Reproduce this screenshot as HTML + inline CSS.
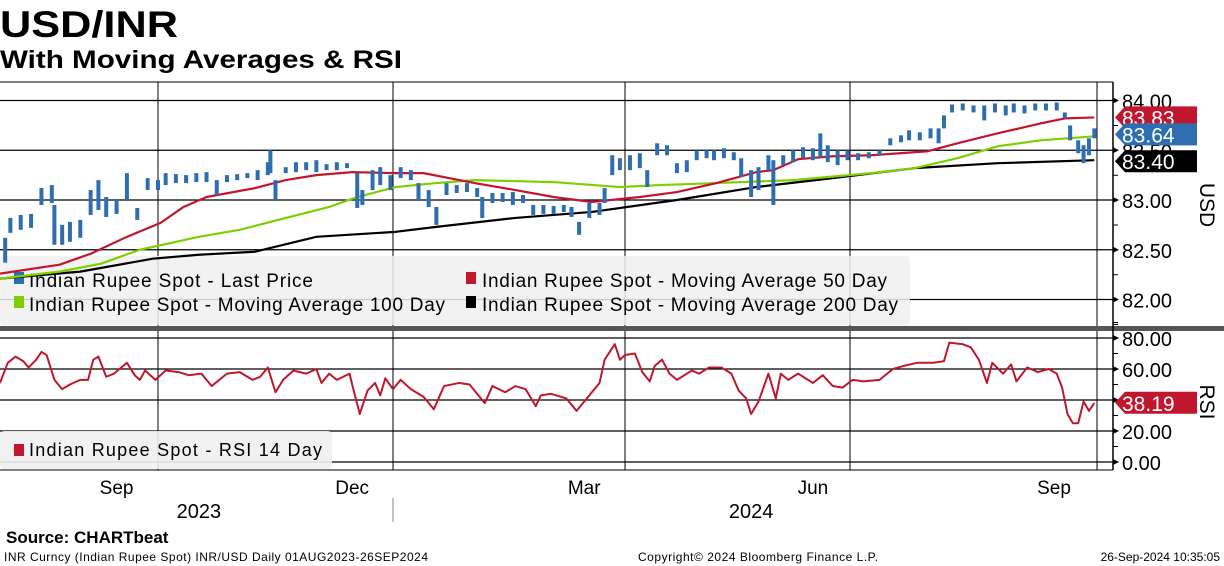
<!DOCTYPE html>
<html><head><meta charset="utf-8"><style>
html,body{margin:0;padding:0;background:#fff;}
svg{display:block;font-family:"Liberation Sans",sans-serif;}
</style></head><body>
<svg id="chart" width="1224" height="566" viewBox="0 0 1224 566" xmlns="http://www.w3.org/2000/svg">
<text x="0" y="37" font-size="37" font-weight="bold" textLength="178" lengthAdjust="spacingAndGlyphs">USD/INR</text>
<text x="0" y="68" font-size="25" font-weight="bold" textLength="402" lengthAdjust="spacingAndGlyphs">With Moving Averages &amp; RSI</text>
<g id="grid"></g>
<g id="legend-price">
<rect x="0" y="256" width="910" height="69" rx="4" fill="#f0f0f0" fill-opacity="0.85"/>
</g>
<g id="series"></g>
<rect x="0" y="326" width="1224" height="5" fill="#555"/>
<g id="rsi-grid"></g>
<g id="rsi-series"></g>
<g id="legend-rsi">
<rect x="0" y="431" width="332" height="38" rx="4" fill="#f0f0f0" fill-opacity="0.9"/>
<rect x="14" y="444" width="10" height="12" fill="#c0172e"/>
<text x="29" y="456" font-size="18" textLength="293">Indian Rupee Spot - RSI 14 Day</text>
</g>
<g id="axes"></g>
<text x="6" y="543" font-size="17" font-weight="bold">Source: CHARTbeat</text>
<text x="4" y="561" font-size="12" textLength="424">INR Curncy (Indian Rupee Spot) INR/USD  Daily 01AUG2023-26SEP2024</text>
<text x="638" y="561" font-size="12" textLength="240">Copyright© 2024 Bloomberg Finance L.P.</text>
<text x="1220" y="561" font-size="12" text-anchor="end">26-Sep-2024 10:35:05</text>
</svg>
<script>
const NS="http://www.w3.org/2000/svg";
// ---- data ----
const barDays=[2,4,8,12,16,20,21,24,27,31,35,38,41,45,49,53,57,61,64,68,72,76,80,84,88,92,96,100,104,105,107,111,115,119,123,127,131,135,139,141,145,148,152,156,160,163,167,170,174,178,182,186,188,192,196,200,204,208,212,216,220,223,226,230,234,236,239,242,246,250,253,257,261,265,269,273,277,280,284,288,291,295,298,302,304,308,312,316,320,323,326,330,334,338,342,346,350,354,357,361,365,368,370,373,377,381,385,389,393,396,400,404,408,412,415,417,420,422,424,426];
const barLow=[82.37,82.67,82.70,82.72,82.95,82.97,82.55,82.55,82.58,82.62,82.85,82.90,82.83,82.86,83.0,82.80,83.1,83.1,83.15,83.17,83.17,83.18,83.18,83.05,83.18,83.2,83.22,83.2,83.25,83.27,83.0,83.27,83.28,83.3,83.28,83.3,83.3,83.32,82.92,82.95,83.1,83.15,83.1,83.22,83.2,83.0,82.93,82.75,83.05,83.07,83.08,83.03,82.82,82.97,82.98,82.95,82.97,82.85,82.86,82.86,82.88,82.83,82.65,82.82,82.85,82.97,83.25,83.3,83.3,83.32,83.13,83.45,83.45,83.27,83.28,83.4,83.42,83.4,83.42,83.4,83.23,83.03,83.1,83.3,82.95,83.35,83.38,83.42,83.4,83.43,83.38,83.35,83.4,83.4,83.42,83.45,83.55,83.58,83.6,83.6,83.62,83.57,83.72,83.88,83.9,83.88,83.8,83.88,83.85,83.88,83.87,83.9,83.9,83.9,83.82,83.6,83.47,83.37,83.45,83.62];
const barHigh=[82.62,82.82,82.85,82.86,83.12,83.15,82.95,82.75,82.78,82.80,83.10,83.20,83.03,83.0,83.27,82.92,83.22,83.2,83.27,83.26,83.25,83.27,83.28,83.2,83.25,83.26,83.27,83.3,83.38,83.50,83.2,83.33,83.38,83.38,83.4,83.36,83.38,83.37,83.27,83.1,83.3,83.33,83.25,83.33,83.3,83.17,83.1,82.93,83.17,83.15,83.17,83.12,83.03,83.07,83.07,83.08,83.05,82.95,82.95,82.94,82.95,82.93,82.78,82.97,82.97,83.12,83.45,83.42,83.45,83.47,83.3,83.57,83.55,83.37,83.4,83.5,83.5,83.5,83.52,83.48,83.42,83.3,83.33,83.45,83.4,83.45,83.5,83.53,83.52,83.67,83.55,83.5,83.5,83.47,83.48,83.5,83.62,83.65,83.7,83.68,83.72,83.72,83.85,83.96,83.97,83.95,83.95,83.97,83.95,83.97,83.95,83.97,83.97,83.98,83.88,83.75,83.6,83.55,83.62,83.72];
const ma50Days=[0,23,35,49,62,71,80,99,111,123,137,154,165,185,201,216,231,250,265,281,297,304,314,328,343,364,375,390,406,415,426];
const ma50Vals=[82.26,82.35,82.46,82.63,82.77,82.93,83.03,83.12,83.2,83.25,83.28,83.27,83.27,83.17,83.10,83.03,82.98,83.03,83.08,83.17,83.28,83.30,83.41,83.44,83.45,83.49,83.57,83.67,83.77,83.82,83.83];
const ma100Days=[0,23,39,54,77,93,108,128,139,154,170,185,216,242,258,281,312,343,359,375,390,406,426];
const ma100Vals=[82.21,82.28,82.36,82.50,82.63,82.70,82.80,82.93,83.03,83.13,83.17,83.20,83.18,83.13,83.15,83.17,83.20,83.27,83.32,83.42,83.54,83.60,83.64];
const ma200Days=[0,31,59,77,99,123,154,170,201,231,265,297,328,359,390,426];
const ma200Vals=[82.21,82.28,82.41,82.45,82.48,82.63,82.68,82.73,82.82,82.88,83.0,83.13,83.22,83.32,83.37,83.40];
const rsiDays=[0,3,6,9,11,14,16,18,21,24,27,31,34,36,38,41,44,49,52,54,56,60,64,69,73,78,82,88,93,98,101,104,107,110,114,119,123,125,128,131,136,137,140,143,146,148,150,153,156,160,165,169,173,179,183,189,192,197,201,205,209,211,215,221,225,229,234,236,240,242,244,248,251,254,256,259,262,265,271,274,278,283,287,290,293,295,298,302,305,307,310,314,320,324,328,332,336,340,346,351,355,360,364,366,370,372,377,380,383,386,388,392,395,397,401,405,409,412,414,416,418,420,422,424,426];
const rsiVals=[51,64,68,65,61,66,71,69,53,47,50,53,53,66,68,55,57,64,56,53,59,53,59,58,56,57,49,57,58,53,55,61,45,53,59,57,60,51,57,53,57,50,31,46,51,43,54,47,53,47,42,34,49,51,50,38,49,45,49,47,36,43,44,41,33,41,51,66,76,66,69,70,58,52,62,66,57,53,59,57,61,61,57,46,41,31,39,57,41,57,53,57,51,56,49,48,53,52,53,60,62,64,64,64,65,77,76,74,66,51,64,57,63,52,61,58,60,57,48,31,25,25,39,33,38];
const priceTicks=["84.00","83.50","83.00","82.50","82.00"];
const rsiTicks=["80.00","60.00","40.00","20.00","0.00"];
const monthLabels=["Sep","Dec","Mar","Jun","Sep"];
const monthDays=[45,137,228,320,411];
const gridDays=[61,153,244,335,427];
const yearLabels=["2023","2024"];
const yearDays=[77,295];
const lastPrice=83.64, lastMA50=83.83, lastMA200=83.40, lastRSI=38.19;
// ---- scales ----
const kD=[0,61,153,244,335,427], kX=[0,158,393,625,850,1097];
function xS(d){for(let i=1;i<kD.length;i++){if(d<=kD[i]||i==kD.length-1){return kX[i-1]+(d-kD[i-1])*(kX[i]-kX[i-1])/(kD[i]-kD[i-1]);}}}
const yP=v=>200-(v-83)*99.5;
const yR=v=>462-v*1.55;
const AX=1113;
function mk(tag,attrs,parent){const e=document.createElementNS(NS,tag);for(const k in attrs)e.setAttribute(k,attrs[k]);parent.appendChild(e);return e;}
const grid=document.getElementById('grid'),series=document.getElementById('series'),rg=document.getElementById('rsi-grid'),rs=document.getElementById('rsi-series'),axes=document.getElementById('axes'),lp=document.getElementById('legend-price');
priceTicks.forEach(t=>{const y=yP(parseFloat(t));
const l=mk('line',{x1:0,x2:AX,y1:y,y2:y,stroke:'#000','stroke-width':1.2},grid);


const tx=mk('text',{x:1122,y:y+8,'font-size':20},axes);tx.textContent=t;


mk('path',{d:`M${AX} ${y-3}L${AX+6} ${y}L${AX} ${y+3}Z`,fill:'#000'},axes);
mk('line',{x1:AX,x2:AX+5,y1:y+25,y2:y+25,stroke:'#000'},axes);});
gridDays.forEach(d=>{
const l=mk('line',{x1:xS(d),x2:xS(d),y1:82,y2:470,stroke:'#000','stroke-width':1},grid);

});
mk('line',{x1:0,x2:AX,y1:82,y2:82,stroke:'#000','stroke-width':1},grid);
function poly(days,vals,ys,color,name,parent,w){
const p=mk('polyline',{points:days.map((d,i)=>xS(d)+','+ys(vals[i])).join(' '),fill:'none',stroke:color,'stroke-width':w||2.2,'stroke-linejoin':'round'},parent);

}
poly(ma200Days,ma200Vals,yP,'#000','ma200-line',series);
poly(ma100Days,ma100Vals,yP,'#7fcf00','ma100-line',series);
poly(ma50Days,ma50Vals,yP,'#c0172e','ma50-line',series);
barDays.forEach((d,i)=>{
const r=mk('rect',{x:xS(d)-2,y:yP(barHigh[i]),width:4,height:Math.max(3,yP(barLow[i])-yP(barHigh[i])),fill:'#2e6eb0'},series);

});
[["#2e6eb0",14,272,"Indian Rupee Spot - Last Price",29,287,284],["#c0172e",466,272,"Indian Rupee Spot - Moving Average 50 Day",482,287,405],["#7fcf00",14,296,"Indian Rupee Spot - Moving Average 100 Day",29,311,416],["#000",466,296,"Indian Rupee Spot - Moving Average 200 Day",482,311,416]].forEach(a=>{
const g=mk('g',{},lp);


mk('rect',{x:a[1],y:a[2],width:10,height:12,fill:a[0]},g);
const t=mk('text',{x:a[4],y:a[5],'font-size':19,textLength:a[6]},g);t.textContent=a[3];});
rsiTicks.forEach(t=>{const y=yR(parseFloat(t));
const l=mk('line',{x1:0,x2:AX,y1:y,y2:y,stroke:'#000','stroke-width':1.2},rg);


const tx=mk('text',{x:1122,y:y+8,'font-size':20},axes);tx.textContent=t;


mk('path',{d:`M${AX} ${y-3}L${AX+6} ${y}L${AX} ${y+3}Z`,fill:'#000'},axes);
mk('line',{x1:AX,x2:AX+5,y1:y-15.5,y2:y-15.5,stroke:'#000'},axes);});
poly(rsiDays,rsiVals,yR,'#c0172e','rsi-line',rs,2);
mk('line',{x1:AX,x2:AX,y1:82,y2:470,stroke:'#000','stroke-width':1.5},axes);
mk('line',{x1:0,x2:AX,y1:470,y2:470,stroke:'#000','stroke-width':1},axes);
mk('line',{x1:393,x2:393,y1:498,y2:522,stroke:'#888','stroke-width':1},axes);
monthLabels.forEach((m,i)=>{const t=mk('text',{x:xS(monthDays[i]),y:494,'font-size':19,'text-anchor':'middle'},axes);t.textContent=m;

});
yearLabels.forEach((m,i)=>{const t=mk('text',{x:xS(yearDays[i]),y:518,'font-size':20,'text-anchor':'middle'},axes);t.textContent=m;

});
function tag(v,ys,color,name){const y=ys(v);
const g=mk('g',{},axes);


mk('path',{d:`M${AX+2} ${y}L${AX+12} ${y-11}L1197 ${y-11}L1197 ${y+11}L${AX+12} ${y+11}Z`,fill:color},g);
const t=mk('text',{x:1122,y:y+8,'font-size':21,fill:'#fff'},g);t.textContent=v.toFixed(2);}
tag(lastMA50,v=>yP(v),'#c0172e','ma50-value-tag');
tag(lastPrice,v=>yP(v)-2,'#2e6eb0','last-price-tag');
tag(lastMA200,v=>yP(v)+1,'#000','ma200-value-tag');
tag(lastRSI,yR,'#c0172e','rsi-value-tag');
const u=mk('text',{x:1200,y:205,'font-size':21,transform:'rotate(90 1200 205)','text-anchor':'middle'},axes);u.textContent='USD';


const r=mk('text',{x:1200,y:402,'font-size':21,transform:'rotate(90 1200 402)','text-anchor':'middle'},axes);r.textContent='RSI';


</script>
</body></html>
